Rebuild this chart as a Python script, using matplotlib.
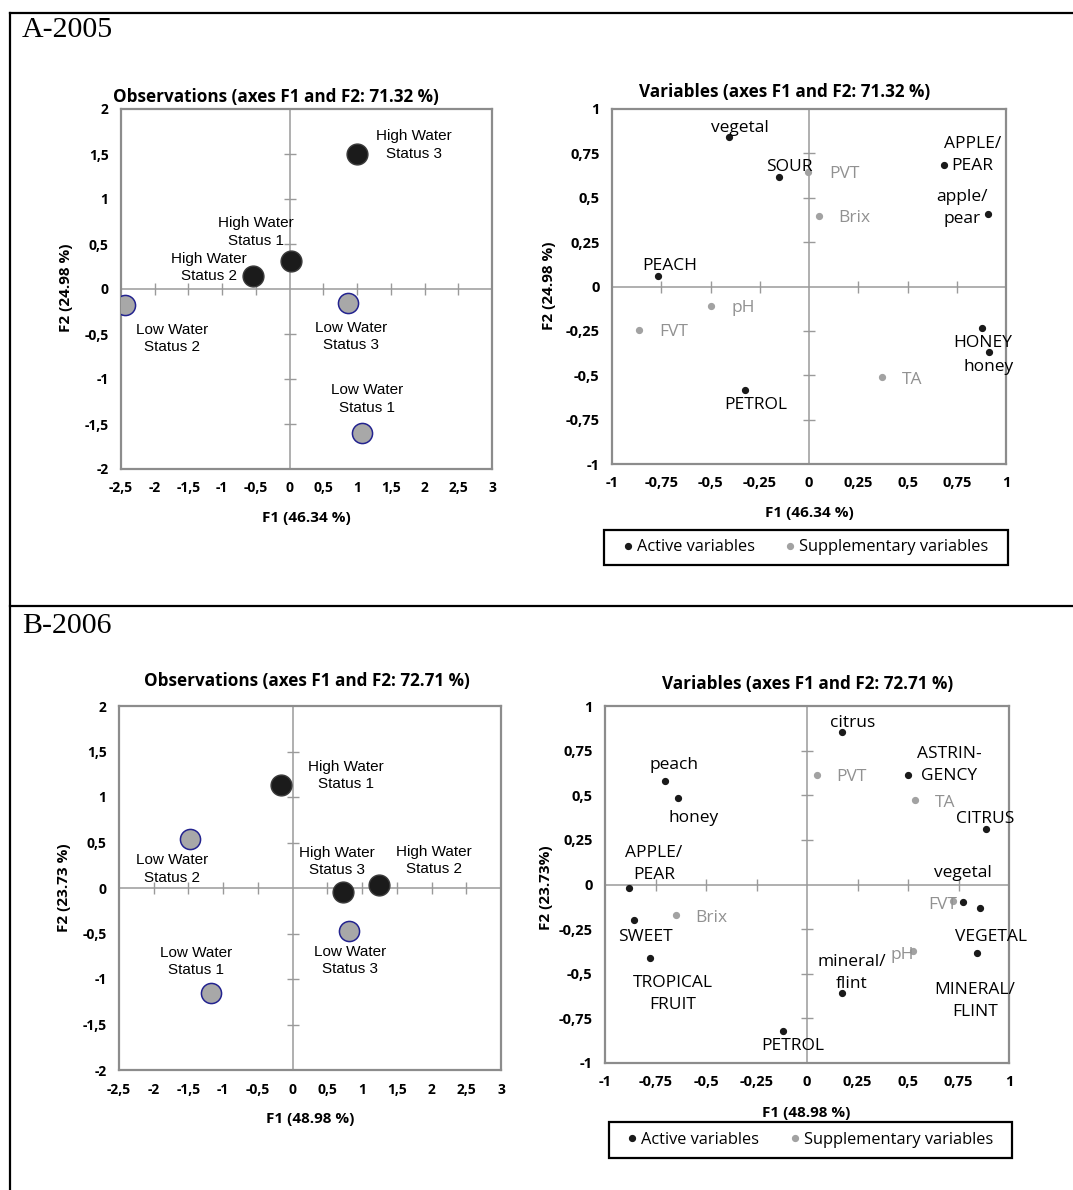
import matplotlib
matplotlib.use("Agg")
import numpy as np
import matplotlib.pyplot as plt
from matplotlib.lines import Line2D
from matplotlib.patches import Rectangle

# ---------------- data ----------------
obs_names = ["High Water\nStatus 1", "High Water\nStatus 2", "High Water\nStatus 3",
             "Low Water\nStatus 1", "Low Water\nStatus 2", "Low Water\nStatus 3"]
obs_is_high = [True, True, True, False, False, False]

obs2005_f1 = [0.02, -0.55, 1.00, 1.08, -2.44, 0.86]
obs2005_f2 = [0.31, 0.15, 1.50, -1.60, -0.18, -0.15]

obs2006_f1 = [-0.17, 1.24, 0.72, -1.18, -1.475, 0.81]
obs2006_f2 = [1.13, 0.03, -0.04, -1.15, 0.54, -0.47]

var2005_names = ["vegetal", "SOUR", "APPLE/\nPEAR", "apple/\npear", "PEACH",
                 "HONEY", "honey", "PETROL", "PVT", "Brix", "pH", "FVT", "TA"]
var2005_active = [True] * 8 + [False] * 5
var2005_f1 = [-0.405, -0.153, 0.686, 0.907, -0.764, 0.876, 0.914, -0.325,
              -0.004, 0.051, -0.496, -0.865, 0.372]
var2005_f2 = [0.845, 0.616, 0.687, 0.407, 0.061, -0.236, -0.370, -0.581,
              0.646, 0.400, -0.111, -0.247, -0.510]

var2006_names = ["citrus", "peach", "honey", "ASTRIN-\nGENCY", "CITRUS", "APPLE/\nPEAR",
                 "vegetal", "VEGETAL", "SWEET", "TROPICAL\nFRUIT", "MINERAL/\nFLINT",
                 "mineral/\nflint", "PETROL", "PVT", "TA", "FVT", "Brix", "pH"]
var2006_active = [True] * 13 + [False] * 5
var2006_f1 = [0.171, -0.704, -0.640, 0.500, 0.887, -0.882, 0.771, 0.854, -0.857,
              -0.778, 0.840, 0.173, -0.121, 0.049, 0.536, 0.721, -0.650, 0.524]
var2006_f2 = [0.857, 0.579, 0.487, 0.615, 0.310, -0.020, -0.100, -0.132, -0.197,
              -0.410, -0.386, -0.609, -0.822, 0.615, 0.474, -0.092, -0.170, -0.375]

obs_xticks = np.arange(-2.5, 3.01, 0.5)
obs_yticks = np.arange(-2.0, 2.01, 0.5)
var_ticks = np.arange(-1.0, 1.01, 0.25)

# label placement (offsets in pixels from each mark)
obs2005_lab = [(-35, 29), (-44, 8), (57, 9), (5, 34), (47, -33), (3, -34)]
obs2006_lab = [(65, 10), (55, 25), (-6, 30), (-15, 31), (-18, -30), (1, -30)]
var2005_lab = [(11, 9), (10, 10), (28, 10), (-26, 6), (11, 10), (1, -15), (0, -15),
               (11, -15), (36, -2), (35, -3), (32, -2), (35, -2), (30, -3)]
var2006_lab = [(11, 9), (9, 16), (16, -20), (41, 10), (-1, 10), (25, 24), (0, 29),
               (11, -29), (11, -17), (23, -36), (-2, -48), (10, 20), (10, -15),
               (35, -2), (30, -3), (-10, -4), (36, -3), (-11, -4)]

# ---------------- styling ----------------
W, H = 1073, 1190
UI = "Open Sans"
FRAME = "#8c8c8c"
ZERO = "#9a9a9a"
HIGH_FC = "#1b1b1b"
LOW_FC = "#a8a8a8"
LOW_EC = "#23238f"
ACT = "#1a1a1a"
SUP = "#a2a2a2"
SUP_TXT = "#919191"

fig = plt.figure(figsize=(W / 100, H / 100), dpi=100)


def fx(px):
    return px / W


def fy(py):
    return 1 - py / H


def box(x0, y0, x1, y1):
    return [fx(x0), fy(y1), fx(x1) - fx(x0), fy(y0) - fy(y1)]


def fmt(v):
    return f"{v:g}".replace(".", ",")


def base_axes(rect, xt, yt, tick_fs):
    ax = fig.add_axes(rect)
    ax.set_xlim(xt[0], xt[-1])
    ax.set_ylim(yt[0], yt[-1])
    ax.set_xticks(xt)
    ax.set_yticks(yt)
    ax.set_xticklabels([fmt(v) for v in xt])
    ax.set_yticklabels([fmt(v) for v in yt])
    ax.tick_params(length=0, pad=9, labelsize=tick_fs)
    for lab in ax.get_xticklabels() + ax.get_yticklabels():
        lab.set_fontfamily(UI)
        lab.set_fontweight("bold")
    for sp in ax.spines.values():
        sp.set_color(FRAME)
        sp.set_linewidth(1.6)
    ax.axhline(0, color=ZERO, lw=1.1, zorder=1)
    ax.axvline(0, color=ZERO, lw=1.1, zorder=1)
    inner_x = [v for v in xt[1:-1] if abs(v) > 1e-9]
    inner_y = [v for v in yt[1:-1] if abs(v) > 1e-9]
    ax.plot(inner_x, np.zeros(len(inner_x)), ls="none", marker="|", ms=8,
            mew=1.0, color=ZERO, zorder=1, clip_on=False)
    ax.plot(np.zeros(len(inner_y)), inner_y, ls="none", marker="_", ms=8,
            mew=1.0, color=ZERO, zorder=1, clip_on=False)
    return ax


def obs_panel(rect, f1, f2, offs):
    ax = base_axes(rect, obs_xticks, obs_yticks, 10)
    for name, x, y, high, (dx, dy) in zip(obs_names, f1, f2, obs_is_high, offs):
        if high:
            ax.plot(x, y, "o", ms=15, mfc=HIGH_FC, mec="#3a3a3a", mew=1.0, zorder=3)
        else:
            ax.plot(x, y, "o", ms=14.5, mfc=LOW_FC, mec=LOW_EC, mew=1.1, zorder=3)
        ax.annotate(name, (x, y), xytext=(dx, dy), textcoords="offset pixels",
                    ha="center", va="center", fontsize=11, family="Liberation Sans",
                    linespacing=1.3, zorder=4)
    return ax


def var_panel(rect, names, f1, f2, active, offs):
    ax = base_axes(rect, var_ticks, var_ticks, 10.5)
    for name, x, y, act, (dx, dy) in zip(names, f1, f2, active, offs):
        ax.plot(x, y, "o", ms=4.2, color=ACT if act else SUP, zorder=3)
        ax.annotate(name, (x, y), xytext=(dx, dy), textcoords="offset pixels",
                    ha="center", va="center", fontsize=12.5, family=UI,
                    color="black" if act else SUP_TXT, linespacing=1.5, zorder=4)
    return ax


def legend_box(x0, y0, x1, y1):
    handles = [Line2D([], [], ls="none", marker="o", ms=4.2, color=ACT),
               Line2D([], [], ls="none", marker="o", ms=4.2, color=SUP)]
    fig.legend(handles, ["Active variables", "Supplementary variables"],
               loc="center", bbox_to_anchor=(fx((x0 + x1) / 2), fy((y0 + y1) / 2)),
               ncol=2, frameon=False, handlelength=0.5, handletextpad=0.3,
               columnspacing=1.9, prop={"family": UI, "size": 11.8})
    fig.patches.append(Rectangle((fx(x0), fy(y1)), fx(x1) - fx(x0), fy(y0) - fy(y1),
                                 transform=fig.transFigure, fill=False,
                                 edgecolor="black", lw=1.6))


def label(px, py, s, size=11, rot=0):
    fig.text(fx(px), fy(py), s, ha="center", va="center", fontsize=size,
             fontweight="bold", family=UI, rotation=rot)


# ---------------- outer frame ----------------
for xs, ys in [((10, 10), (13, H)), ((10, W), (13, 13)), ((10, W), (606, 606))]:
    fig.add_artist(Line2D([fx(v) for v in xs], [fy(v) for v in ys], color="black",
                          lw=1.6, transform=fig.transFigure))

fig.text(fx(22), fy(37), "A-2005", fontsize=21.5, family="Liberation Serif",
         ha="left", va="baseline")
fig.text(fx(22), fy(633), "B-2006", fontsize=21.5, family="Liberation Serif",
         ha="left", va="baseline")

# ---------------- A-2005 ----------------
obs_panel(box(121, 109, 492, 469), obs2005_f1, obs2005_f2, obs2005_lab)
label(276, 97, "Observations (axes F1 and F2: 71.32 %)", 12.3)
label(306, 518, "F1 (46.34 %)")
label(66, 288, "F2 (24.98 %)", rot=90)

var_panel(box(612, 109, 1006, 464), var2005_names, var2005_f1, var2005_f2,
          var2005_active, var2005_lab)
label(785, 92, "Variables (axes F1 and F2: 71.32 %)", 12.3)
label(809, 513, "F1 (46.34 %)")
label(549, 286, "F2 (24.98 %)", rot=90)
legend_box(604, 530, 1008, 565)

# ---------------- B-2006 ----------------
obs_panel(box(119, 706, 501, 1070), obs2006_f1, obs2006_f2, obs2006_lab)
label(307, 681, "Observations (axes F1 and F2: 72.71 %)", 12.3)
label(310, 1119, "F1 (48.98 %)")
label(64, 888, "F2 (23.73 %)", rot=90)

var_panel(box(605, 706, 1009, 1063), var2006_names, var2006_f1, var2006_f2,
          var2006_active, var2006_lab)
label(808, 684, "Variables (axes F1 and F2: 72.71 %)", 12.3)
label(806, 1113, "F1 (48.98 %)")
label(546, 888, "F2 (23.73%)", rot=90)
legend_box(609, 1122, 1012, 1158)

fig.savefig("out.png", dpi=100)
